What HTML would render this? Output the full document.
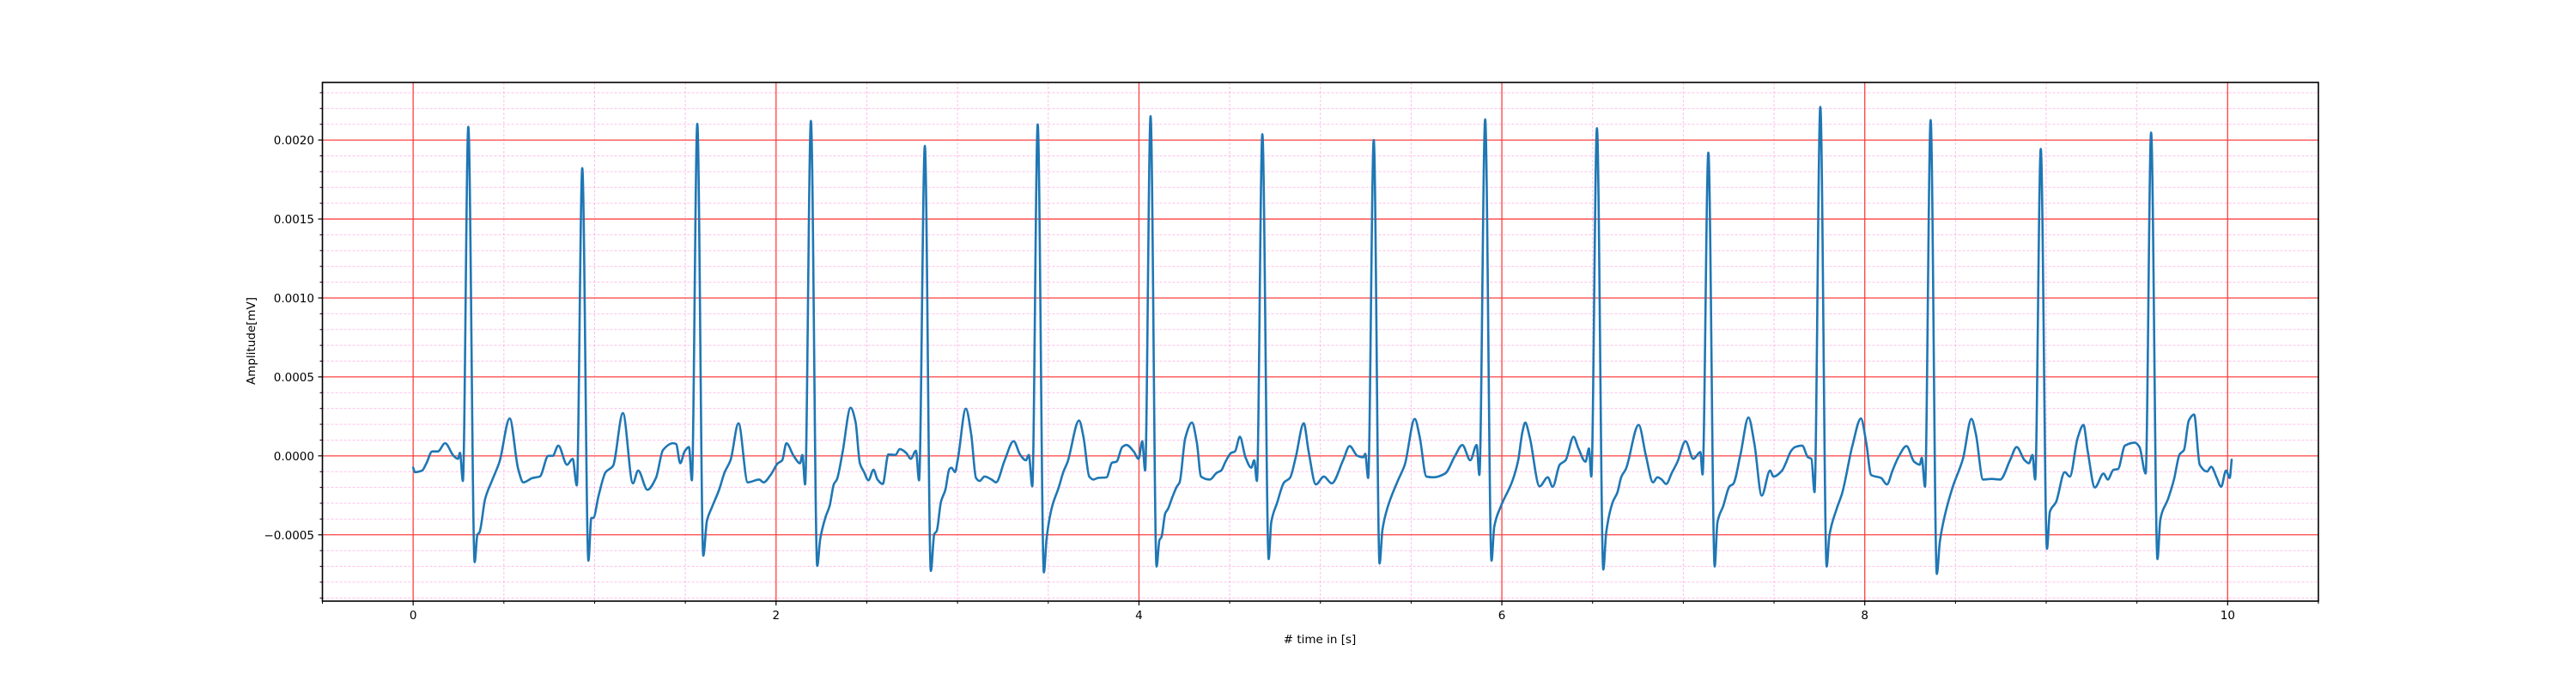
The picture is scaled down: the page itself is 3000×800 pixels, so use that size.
<!DOCTYPE html>
<html><head><meta charset="utf-8"><title>ECG amplitude vs time</title>
<style>
html,body{margin:0;padding:0;background:#fff;}
svg{display:block;}
text{font-family:"DejaVu Sans","Liberation Sans",sans-serif;fill:#000;}
</style></head>
<body>
<svg id="chart" width="3000" height="800" viewBox="0 0 3000 800" xmlns="http://www.w3.org/2000/svg">
<rect x="0" y="0" width="3000" height="800" fill="#ffffff"/>
<g id="grid-minor"></g>
<g id="grid-major"></g>
<g id="series"></g>
<rect x="375.5" y="96" width="2324.5" height="604" fill="none" stroke="#000" stroke-width="1.6"/>
<g id="ticks"></g>
<text x="1537" y="749" font-size="13.5" text-anchor="middle"># time in [s]</text>
<text x="0" y="0" font-size="13.5" text-anchor="middle" transform="translate(297,397) rotate(-90)">Amplitude[mV]</text>
</svg>
<script>
// ---- data ----
const xTickValues = [0, 2, 4, 6, 8, 10];
const xTickLabels = ["0", "2", "4", "6", "8", "10"];
const yTickValues = [-0.0005, 0.0, 0.0005, 0.001, 0.0015, 0.002];
const yTickLabels = ["\u22120.0005", "0.0000", "0.0005", "0.0010", "0.0015", "0.0020"];
const timeSec = [
0.000,0.010,0.049,0.073,0.105,0.136,0.176,0.223,0.247,0.258,0.274,0.304,0.339,0.354,0.365,0.397,0.437,0.476,0.532,0.579,0.607,0.658,0.698,0.745,0.769,0.800,0.848,0.879,0.902,0.932,0.966,0.982,0.993,1.022,1.061,1.101,1.156,1.211,1.240,1.291,1.338,1.377,1.433,1.449,1.472,1.496,1.520,1.536,1.566,1.599,1.619,1.646,1.686,1.717,1.749,1.793,1.844,1.907,1.931,1.970,2.010,2.034,
2.057,2.097,2.132,2.145,2.160,2.192,2.227,2.243,2.274,2.295,2.319,2.335,2.366,2.411,2.438,2.462,2.485,2.509,2.537,2.559,2.588,2.619,2.658,2.682,2.717,2.742,2.771,2.788,2.820,2.853,2.872,2.885,2.909,2.933,2.955,2.967,2.986,3.002,3.046,3.075,3.102,3.122,3.149,3.188,3.212,3.260,3.309,3.346,3.377,3.393,3.412,3.442,3.476,3.491,3.520,3.559,3.583,3.607,3.670,3.694,3.726,3.749,3.773,3.821,3.852,3.876,3.908,3.931,3.971,3.998,4.018,4.034,4.064,
4.097,4.113,4.124,4.145,4.160,4.184,4.208,4.224,4.255,4.292,4.319,4.342,4.390,4.429,4.453,4.477,4.508,4.529,4.556,4.587,4.619,4.635,4.650,4.680,4.715,4.729,4.761,4.800,4.832,4.864,4.908,4.935,4.975,5.019,5.062,5.125,5.161,5.204,5.236,5.247,5.263,5.294,5.326,5.342,5.370,5.426,5.465,5.520,5.547,5.584,5.623,5.687,5.742,5.782,5.826,5.861,5.876,5.908,5.943,5.958,5.995,6.058,6.090,6.113,
6.129,6.153,6.208,6.253,6.280,6.319,6.351,6.395,6.422,6.461,6.480,6.493,6.524,6.559,6.575,6.612,6.636,6.659,6.683,6.754,6.794,6.833,6.857,6.881,6.905,6.937,6.968,7.012,7.055,7.094,7.106,7.138,7.173,7.188,7.220,7.255,7.275,7.315,7.359,7.392,7.432,7.478,7.497,7.544,7.568,7.592,7.616,7.655,7.687,7.706,7.723,7.755,7.790,7.805,7.845,7.876,7.932,7.979,8.008,8.035,8.090,8.122,8.153,
8.185,8.230,8.272,8.303,8.314,8.332,8.363,8.397,8.414,8.438,8.485,8.541,8.588,8.612,8.652,8.699,8.746,8.802,8.837,8.881,8.905,8.924,8.939,8.970,9.004,9.020,9.054,9.102,9.130,9.173,9.205,9.229,9.268,9.316,9.339,9.371,9.395,9.434,9.489,9.514,9.548,9.578,9.613,9.629,9.672,9.704,9.735,9.759,9.786,9.815,9.846,9.886,9.909,9.940,9.964,9.991,10.011,10.022];
const amplitudeE4 = [
-0.75,-1.03,-0.93,-0.47,0.28,0.28,0.80,0.0,-0.19,0.19,-1.59,20.84,-6.73,-4.99,-4.86,-2.71,-1.50,-0.37,2.37,-0.84,-1.68,-1.40,-1.31,0.0,0.0,0.65,-0.56,-0.19,-1.87,18.22,-6.64,-3.93,-3.93,-2.52,-1.03,-0.65,2.71,-1.74,-0.93,-2.15,-1.40,0.37,0.80,0.75,-0.47,0.28,0.56,-1.55,21.03,-6.32,-4.11,-3.27,-2.15,-1.03,-0.28,2.06,-1.68,-1.50,-1.68,-1.21,-0.47,-0.28,
0.80,0.0,-0.47,0.06,-1.81,21.21,-6.97,-5.29,-3.83,-3.18,-1.78,-1.50,0.19,3.05,2.15,-0.47,-1.03,-1.55,-0.88,-1.50,-1.78,0.09,0.06,0.43,0.19,-0.19,0.32,-1.55,19.63,-7.29,-4.95,-4.77,-2.90,-2.15,-0.84,-0.75,-1.03,-0.19,2.99,1.40,-1.40,-1.59,-1.31,-1.50,-1.68,-0.28,0.93,0.06,-0.28,0.06,-1.93,20.99,-7.38,-5.23,-3.27,-1.96,-1.03,-0.37,2.24,1.21,-1.31,-1.50,-1.40,-1.36,-0.43,-0.37,0.56,0.69,0.28,-0.19,0.93,-0.93,21.51,
-7.01,-5.33,-5.14,-3.64,-3.36,-2.62,-1.96,-1.68,1.12,2.11,0.84,-1.31,-1.50,-1.07,-0.93,-0.37,0.19,0.28,1.21,-0.09,-0.75,-0.28,-1.59,20.37,-6.54,-4.21,-2.99,-1.68,-1.40,-0.09,2.06,0.28,-1.81,-1.31,-1.74,-0.28,0.62,0.0,-0.09,0.13,-1.40,20.0,-6.82,-4.67,-3.27,-1.59,-0.56,2.34,1.21,-1.31,-1.36,-1.12,0.0,0.69,-0.28,0.69,-1.21,21.31,-6.64,-4.49,-3.18,-1.59,-0.28,1.50,
2.11,1.21,-1.93,-1.36,-1.96,-0.56,-0.28,1.21,0.47,-0.37,0.47,-1.31,20.75,-7.20,-4.86,-2.90,-2.34,-1.31,-0.84,1.96,0.0,-1.68,-1.36,-1.50,-1.78,-1.07,-0.37,0.93,-0.19,0.24,-1.18,19.2,-7.01,-4.21,-3.18,-1.93,-1.78,0.09,2.43,0.75,-2.52,-0.93,-1.31,-0.93,-0.37,0.28,0.56,0.65,-0.09,-0.19,-2.30,22.1,-7.01,-5.05,-3.36,-2.34,0.65,2.37,0.84,-1.21,-1.40,-1.81,-0.93,
-0.09,0.62,-0.37,-0.56,-0.13,-1.96,21.27,-7.48,-5.42,-3.93,-1.96,-0.19,2.34,1.40,-1.50,-1.46,-1.50,-0.24,0.56,-0.28,-0.47,0.06,-1.50,19.44,-5.89,-3.55,-2.93,-1.03,-1.31,1.12,1.96,0.28,-2.00,-1.12,-1.50,-0.88,-0.84,0.65,0.84,0.56,-1.12,20.47,-6.54,-4.02,-2.71,-1.50,0.09,0.37,2.24,2.62,-0.56,-0.99,-0.69,-1.40,-1.96,-0.93,-1.40,-0.24];

// ---- axes ----
const X0 = 375.5, X1 = 2700, Y0 = 96, Y1 = 700;
const xMin = -0.5, xMax = 10.5, yMin = -0.00092, yMax = 0.002365;
function xScale(t){ return X0 + (t - xMin) / (xMax - xMin) * (X1 - X0); }
function yScale(v){ return Y1 - (v - yMin) / (yMax - yMin) * (Y1 - Y0); }
const NS = "http://www.w3.org/2000/svg";
function mk(tag, parent){ const e = document.createElementNS(NS, tag); parent.appendChild(e); return e; }

const gMinor = document.getElementById('grid-minor');
const gMajor = document.getElementById('grid-major');
const gTicks = document.getElementById('ticks');
const gSeries = document.getElementById('series');

for (let i = -1; i <= 21; i++) {
  const t = i * 0.5;
  if (i % 4 === 0) continue;
  const x = xScale(t);
  const l = mk('line', gMinor);
  
  
  l.setAttribute('x1', x); l.setAttribute('x2', x); l.setAttribute('y1', Y0); l.setAttribute('y2', Y1);
  l.setAttribute('stroke', '#ff8ad8'); l.setAttribute('stroke-opacity', '0.55'); l.setAttribute('stroke-width', '1'); l.setAttribute('stroke-dasharray', '3,2');
  const tk = mk('line', gTicks);
  
  
  tk.setAttribute('x1', x); tk.setAttribute('x2', x); tk.setAttribute('y1', Y1); tk.setAttribute('y2', Y1 + 3);
  tk.setAttribute('stroke', '#000'); tk.setAttribute('stroke-width', '1');
}
for (let i = -9; i <= 23; i++) {
  if (i % 5 === 0) continue;
  const y = yScale(i * 0.0001);
  const l = mk('line', gMinor);
  
  
  l.setAttribute('x1', X0); l.setAttribute('x2', X1); l.setAttribute('y1', y); l.setAttribute('y2', y);
  l.setAttribute('stroke', '#ff8ad8'); l.setAttribute('stroke-opacity', '0.55'); l.setAttribute('stroke-width', '1'); l.setAttribute('stroke-dasharray', '3,2');
  const tk = mk('line', gTicks);
  
  
  tk.setAttribute('x1', X0 - 3); tk.setAttribute('x2', X0); tk.setAttribute('y1', y); tk.setAttribute('y2', y);
  tk.setAttribute('stroke', '#000'); tk.setAttribute('stroke-width', '1');
}
xTickValues.forEach((t, i) => {
  const x = xScale(t);
  const l = mk('line', gMajor);
  
  
  l.setAttribute('x1', x); l.setAttribute('x2', x); l.setAttribute('y1', Y0); l.setAttribute('y2', Y1);
  l.setAttribute('stroke', '#ff4040'); l.setAttribute('stroke-width', '1.3');
  const tk = mk('line', gTicks);
  
  
  tk.setAttribute('x1', x); tk.setAttribute('x2', x); tk.setAttribute('y1', Y1); tk.setAttribute('y2', Y1 + 5);
  tk.setAttribute('stroke', '#000'); tk.setAttribute('stroke-width', '1.2');
  const tx = mk('text', gTicks);
  
  
  tx.setAttribute('x', x); tx.setAttribute('y', 721); tx.setAttribute('font-size', '13.5'); tx.setAttribute('text-anchor', 'middle');
  tx.textContent = xTickLabels[i];
});
yTickValues.forEach((v, i) => {
  const y = yScale(v);
  const l = mk('line', gMajor);
  
  
  l.setAttribute('x1', X0); l.setAttribute('x2', X1); l.setAttribute('y1', y); l.setAttribute('y2', y);
  l.setAttribute('stroke', '#ff4040'); l.setAttribute('stroke-width', '1.3');
  const tk = mk('line', gTicks);
  
  
  tk.setAttribute('x1', X0 - 5); tk.setAttribute('x2', X0); tk.setAttribute('y1', y); tk.setAttribute('y2', y);
  tk.setAttribute('stroke', '#000'); tk.setAttribute('stroke-width', '1.2');
  const tx = mk('text', gTicks);
  
  
  tx.setAttribute('x', 366); tx.setAttribute('y', y + 5); tx.setAttribute('font-size', '13.5'); tx.setAttribute('text-anchor', 'end');
  tx.textContent = yTickLabels[i];
});

// series: monotone cubic (Fritsch-Carlson) through data points
const px = timeSec.map(xScale);
const py = amplitudeE4.map(v => yScale(v * 1e-4));
const n = px.length;
const dk = [], m = new Array(n);
for (let i = 0; i < n - 1; i++) dk.push((py[i+1] - py[i]) / (px[i+1] - px[i]));
m[0] = dk[0]; m[n-1] = dk[n-2];
for (let i = 1; i < n - 1; i++) {
  if (dk[i-1] * dk[i] <= 0) m[i] = 0;
  else {
    const h0 = px[i] - px[i-1], h1 = px[i+1] - px[i];
    const w1 = 2*h1 + h0, w2 = h1 + 2*h0;
    m[i] = (w1 + w2) / (w1 / dk[i-1] + w2 / dk[i]);
  }
}
let d = 'M' + px[0].toFixed(2) + ',' + py[0].toFixed(2);
for (let i = 0; i < n - 1; i++) {
  const h = (px[i+1] - px[i]) / 3;
  d += 'C' + (px[i] + h).toFixed(2) + ',' + (py[i] + m[i]*h).toFixed(2) + ' ' +
       (px[i+1] - h).toFixed(2) + ',' + (py[i+1] - m[i+1]*h).toFixed(2) + ' ' +
       px[i+1].toFixed(2) + ',' + py[i+1].toFixed(2);
}
const p = mk('path', gSeries);


p.setAttribute('d', d);
p.setAttribute('fill', 'none'); p.setAttribute('stroke', '#1f77b4'); p.setAttribute('stroke-width', '2.6');
p.setAttribute('stroke-linejoin', 'round'); p.setAttribute('stroke-linecap', 'round');
</script>
</body></html>
